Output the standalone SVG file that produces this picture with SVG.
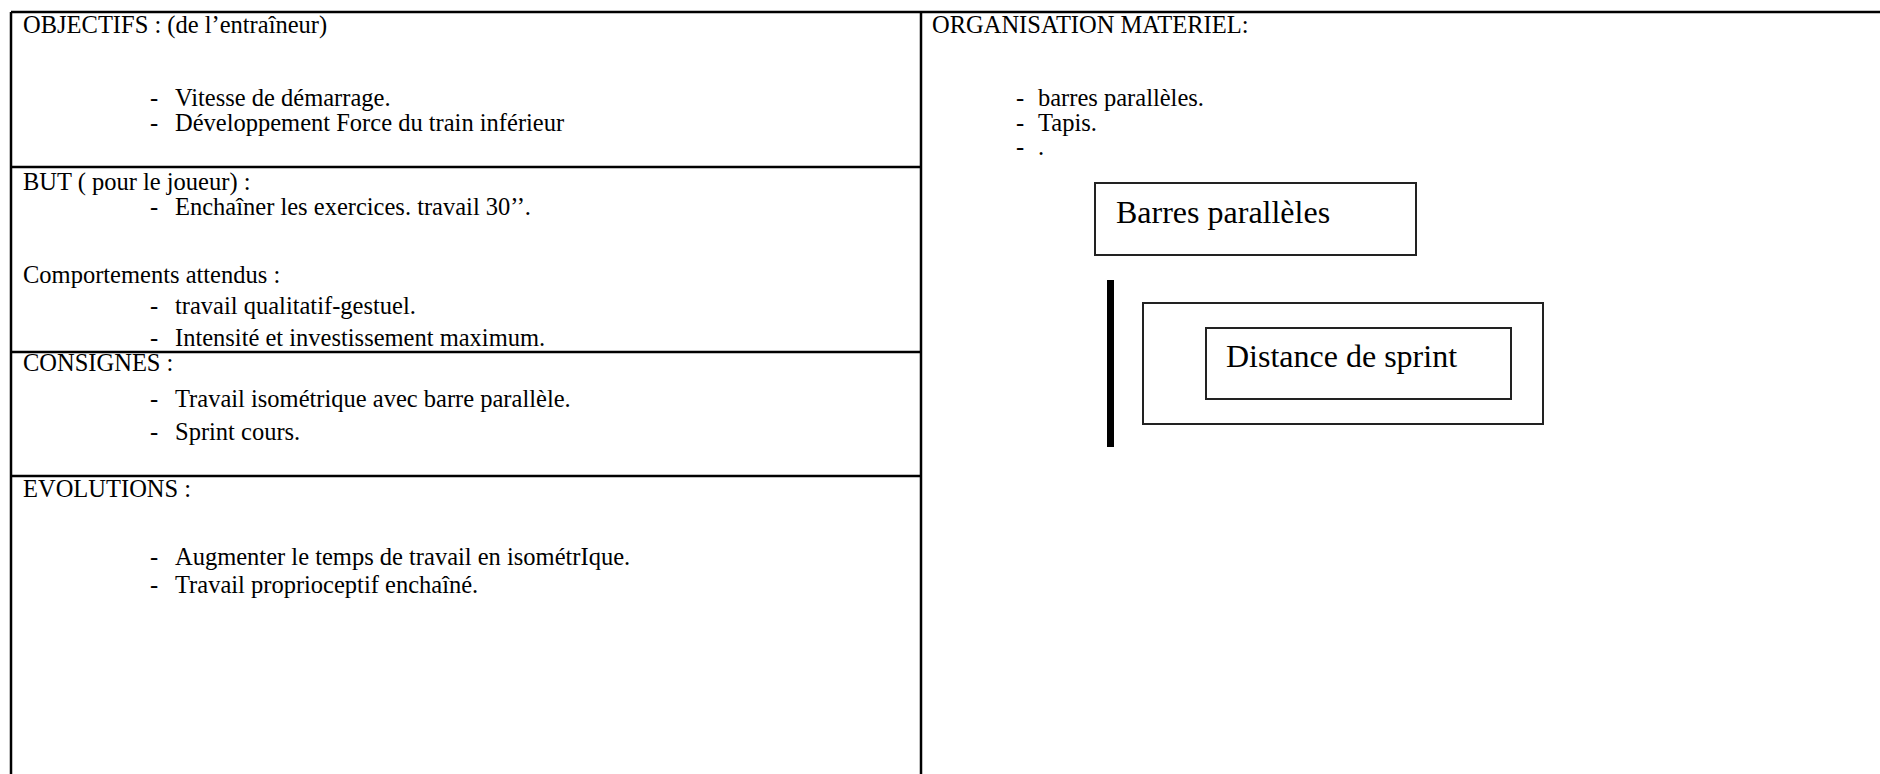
<svg xmlns="http://www.w3.org/2000/svg" width="1880" height="774" viewBox="0 0 1880 774">
<style>
  .t { font-family: "Liberation Serif", "Times New Roman", serif; font-size: 24.5px; fill: #000; }
  .big { font-family: "Liberation Serif", "Times New Roman", serif; font-size: 32px; fill: #000; }
  .rule { stroke: #000; stroke-width: 2.5; fill: none; }
  .box { stroke: #222; stroke-width: 2; fill: #fff; }
</style>
<rect x="0" y="0" width="1880" height="774" fill="#fff"/>
<g id="table">
  <line class="rule" x1="11" y1="12" x2="1880" y2="12"/>
  <line class="rule" x1="11" y1="12" x2="11" y2="774"/>
  <line class="rule" x1="921" y1="12" x2="921" y2="774"/>
  <line class="rule" x1="11" y1="167" x2="921" y2="167"/>
  <line class="rule" x1="11" y1="352" x2="921" y2="352"/>
  <line class="rule" x1="11" y1="476" x2="921" y2="476"/>
</g>
<g id="objectifs">
  <text class="t" x="23" y="33">OBJECTIFS : (de l’entraîneur)</text>
  <text class="t" x="150" y="106">-</text><text class="t" x="175" y="106">Vitesse de démarrage.</text>
  <text class="t" x="150" y="131">-</text><text class="t" x="175" y="131">Développement Force du train inférieur</text>
</g>
<g id="but">
  <text class="t" x="23" y="190">BUT ( pour le joueur) :</text>
  <text class="t" x="150" y="215">-</text><text class="t" x="175" y="215">Enchaîner les exercices. travail 30’’.</text>
  <text class="t" x="23" y="283">Comportements attendus :</text>
  <text class="t" x="150" y="314">-</text><text class="t" x="175" y="314">travail qualitatif-gestuel.</text>
  <text class="t" x="150" y="346">-</text><text class="t" x="175" y="346">Intensité et investissement maximum.</text>
</g>
<g id="consignes">
  <text class="t" x="23" y="371">CONSIGNES :</text>
  <text class="t" x="150" y="407">-</text><text class="t" x="175" y="407">Travail isométrique avec barre parallèle.</text>
  <text class="t" x="150" y="440">-</text><text class="t" x="175" y="440">Sprint cours.</text>
</g>
<g id="evolutions">
  <text class="t" x="23" y="497">EVOLUTIONS :</text>
  <text class="t" x="150" y="565">-</text><text class="t" x="175" y="565">Augmenter le temps de travail en isométrIque.</text>
  <text class="t" x="150" y="593">-</text><text class="t" x="175" y="593">Travail proprioceptif enchaîné.</text>
</g>
<g id="organisation">
  <text class="t" x="932" y="33">ORGANISATION MATERIEL:</text>
  <text class="t" x="1016" y="106">-</text><text class="t" x="1038" y="106">barres parallèles.</text>
  <text class="t" x="1016" y="131">-</text><text class="t" x="1038" y="131">Tapis.</text>
  <text class="t" x="1016" y="155">-</text><text class="t" x="1038" y="155">.</text>
</g>
<g id="barres-paralleles">
  <rect class="box" x="1095" y="183" width="321" height="72"/>
  <text class="big" x="1116" y="223">Barres parallèles</text>
</g>
<g id="bar">
  <rect x="1107" y="280" width="7" height="167" fill="#000"/>
</g>
<g id="tapis">
  <rect class="box" x="1143" y="303" width="400" height="121"/>
</g>
<g id="distance-sprint">
  <rect class="box" x="1206" y="328" width="305" height="71"/>
  <text class="big" x="1226" y="367">Distance de sprint</text>
</g>
<g id="connectors"></g>
</svg>
